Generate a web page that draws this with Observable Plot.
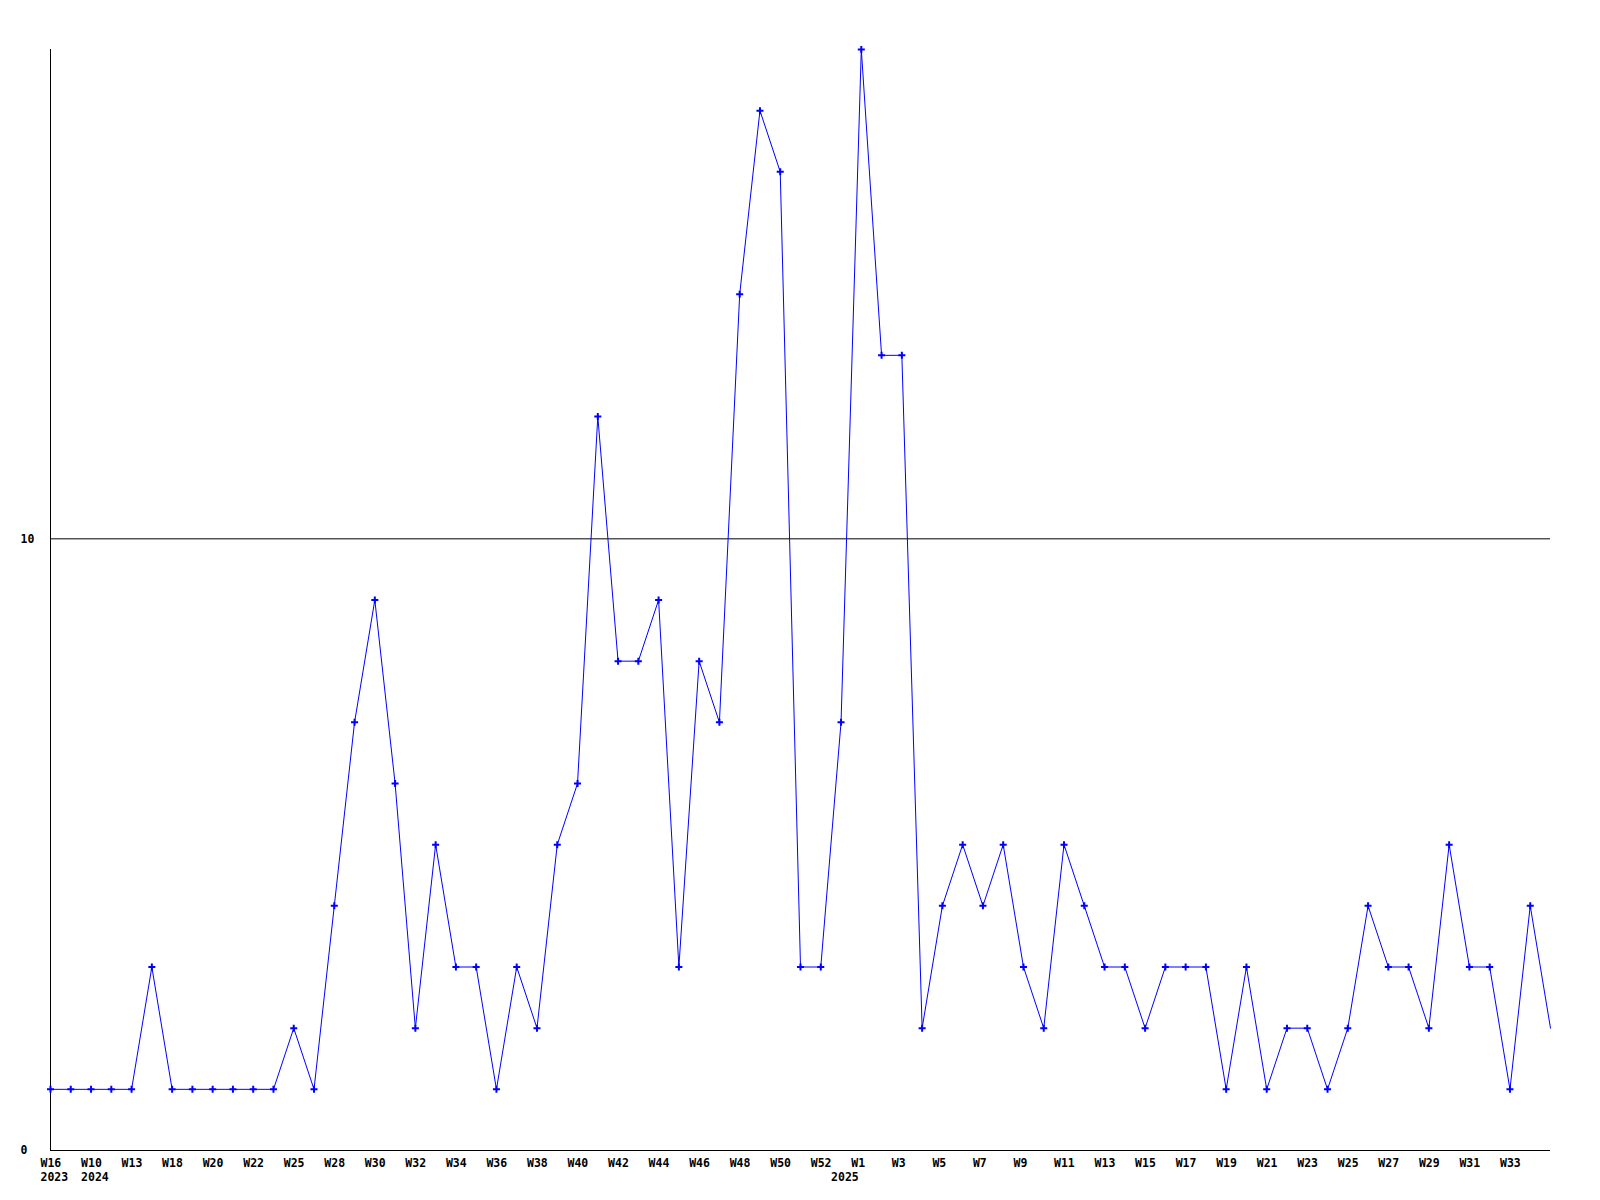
<!DOCTYPE html>
<html>
<head>
<meta charset="utf-8">
<script src="https://cdn.jsdelivr.net/npm/d3@7"></script>
<script src="https://cdn.jsdelivr.net/npm/@observablehq/plot@0.6"></script>
<style>
  html, body { margin: 0; padding: 0; background: #fff; }
  svg { display: block; }
</style>
</head>
<body>
<div id="chart"></div>
<script>
// Week categories (one per data point, in order)
const weeks = [
  "W16","W20","W10","W12","W13","W15","W18","W19","W20","W21",
  "W22","W24","W25","W27","W28","W29","W30","W31","W32","W33",
  "W34","W35","W36","W37","W38","W39","W40","W41","W42","W43",
  "W44","W45","W46","W47","W48","W49","W50","W51","W52","W1",
  "W1","W2","W3","W4","W5","W6","W7","W8","W9","W10",
  "W11","W12","W13","W14","W15","W16","W17","W18","W19","W20",
  "W21","W22","W23","W24","W25","W26","W27","W28","W29","W30",
  "W31","W32","W33","W34","W35"
];
// Series values
const values = [
  1,1,1,1,1,3,1,1,1,1,
  1,1,2,1,4,7,9,6,2,5,
  3,3,1,3,2,5,6,12,8,8,
  9,3,8,7,14,17,16,3,3,7,
  18,13,13,2,4,5,4,5,3,2,
  5,4,3,3,2,3,3,3,1,3,
  1,2,2,1,2,4,3,3,2,5,
  3,3,1,4,2
];
// Year labels and the point index they sit under
const yearLabels = ["2023","2024","2025"];
const yearIndex = [0, 2, 39];
// Y tick labels
const yTicks = [0, 10];

const data = values.map((v, i) => ({i, v, week: weeks[i]}));
const weekTicks = data.filter(d => d.i % 2 === 0 && d.i < values.length - 1);
const years = yearLabels.map((label, k) => ({i: yearIndex[k], label}));

const font = "'DejaVu Sans Mono', monospace";
const blue = "#0000ff";

const chart = Plot.plot({
  width: 1600,
  height: 1200,
  marginLeft: 50,
  marginRight: 50,
  marginTop: 49,
  marginBottom: 50,
  x: {domain: [0, values.length - 1], axis: null},
  y: {domain: [0, 18], axis: null},
  style: {fontFamily: font, fontSize: "11.5px", fontWeight: "bold", background: "#fff"},
  marks: [
    Plot.ruleY(yTicks, {stroke: "black", strokeWidth: 1}),
    Plot.ruleX([0], {stroke: "black", strokeWidth: 1}),
    Plot.line(data, {x: "i", y: "v", stroke: blue, strokeWidth: 1}),
    Plot.dot(data.slice(0, -1), {x: "i", y: "v", symbol: "plus", r: 2.4, stroke: blue, strokeWidth: 2}),
    Plot.text(weekTicks, {x: "i", y: 0, text: "week", dy: 13, dx: -10, textAnchor: "start", fill: "black"}),
    Plot.text(years, {x: "i", y: 0, text: "label", dy: 27, dx: -10, textAnchor: "start", fill: "black"}),
    Plot.text(yTicks, {y: d => d, text: d => String(d), frameAnchor: "left", dx: -30, textAnchor: "start", fill: "black"})
  ]
});
document.getElementById("chart").appendChild(chart);
</script>
</body>
</html>
